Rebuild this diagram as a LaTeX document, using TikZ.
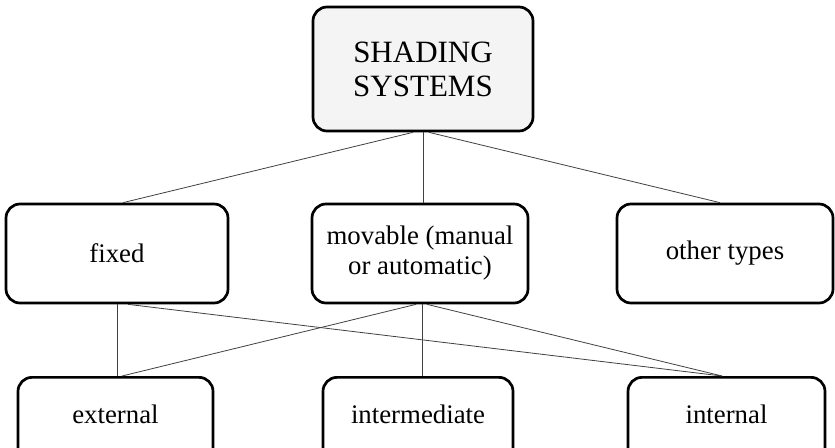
\documentclass[tikz,border=0pt]{standalone}
\usepackage{fontspec}
\setmainfont{Liberation Serif}
\begin{document}
\begin{tikzpicture}[x=1pt,y=-1pt,
  basebox/.style={draw=black, line width=2.7pt, rounded corners=14pt, inner sep=0pt},
  topbox/.style={basebox, fill=gray!9, align=center, minimum width=220pt, minimum height=124pt,
    font=\fontsize{31}{34}\selectfont},
  midbox/.style={basebox, align=center, minimum height=99pt, font=\fontsize{26.8}{30}\selectfont},
  botbox/.style={basebox, anchor=north, text height=46pt, text depth=54pt, font=\fontsize{26.8}{30}\selectfont},
  link/.style={draw=black!75, line width=0.8pt}]
\useasboundingbox (0,0) rectangle (835,447);
\clip (0,0) rectangle (835,447);

\node[topbox] (top) at (423,69) {SHADING\\SYSTEMS};
\node[midbox, minimum width=222pt] (fixed) at (117,253.5) {fixed};
\node[midbox, minimum width=216pt] (movable) at (420,253.5) {movable (manual\\or automatic)};
\node[midbox, minimum width=216pt] (other) at (725,253.5) {other types};
\node[botbox, minimum width=195pt] (external) at (115.5,376) {external};
\node[botbox, minimum width=190pt] (intermediate) at (418,376) {intermediate};
\node[botbox, minimum width=197pt] (internal) at (726.5,376) {internal};

\draw[link] ([xshift=-10pt]top.south) -- ([xshift=6pt]fixed.north);
\draw[link] (top.south) -- (top.south |- movable.north);
\draw[link] ([xshift=6pt]top.south) -- ([xshift=-5pt]other.north);
\draw[link] (fixed.south) -- (fixed.south |- external.north);
\draw[link] ([xshift=11pt]fixed.south) -- ([xshift=-4.5pt]internal.north);
\draw[link] ([xshift=-4pt]movable.south) -- ([xshift=6.5pt]external.north);
\draw[link] ([xshift=2pt]movable.south) -- ([xshift=2pt]movable.south |- intermediate.north);
\draw[link] ([xshift=7pt]movable.south) -- ([xshift=-4.5pt]internal.north);
\end{tikzpicture}
\end{document}
